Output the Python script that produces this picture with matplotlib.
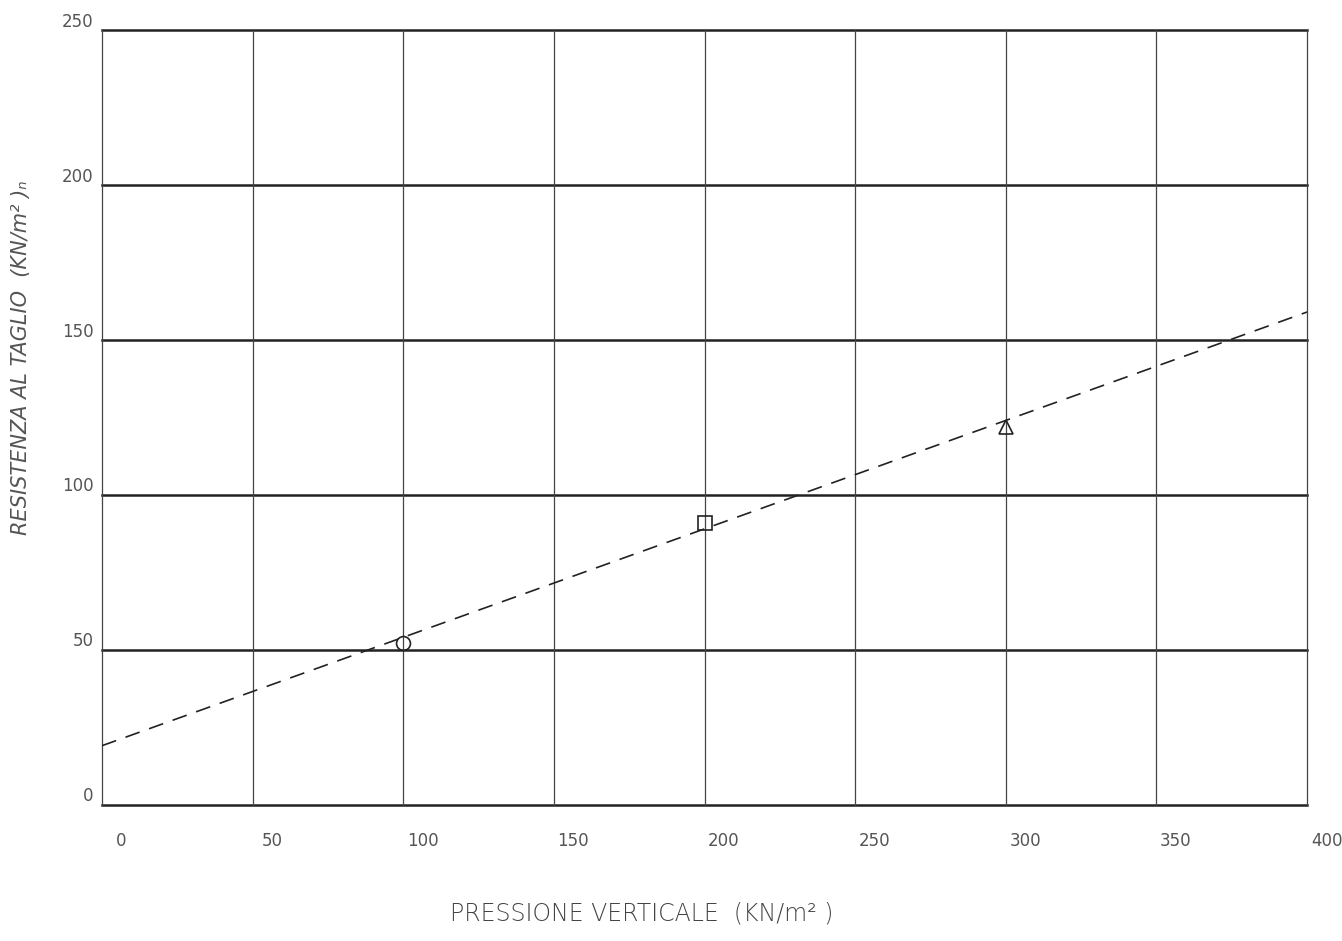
import matplotlib.pyplot as plt
import numpy as np

# prove di taglio diretto
pressione = [100, 200, 300]
resistenza = [52, 91, 122]
simboli = ['o', 's', '^']

# retta di inviluppo (coesione e tan(phi))
coesione = 19
tan_phi = 0.35

x_ticks = [0, 50, 100, 150, 200, 250, 300, 350, 400]
y_ticks = [0, 50, 100, 150, 200, 250]

fig = plt.figure(figsize=(13.42, 9.41), dpi=100)
ax = fig.add_axes([0.076, 0.145, 0.898, 0.823])

# griglia: orizzontali piu' marcate delle verticali
for y in y_ticks:
	ax.axhline(y, color='#222222', lw=1.8, zorder=1, clip_on=False)
for x in x_ticks:
	ax.axvline(x, color='#444444', lw=0.9, zorder=1, clip_on=False)

X = np.array([0, 400])
ax.plot(X, coesione + tan_phi * X, color='#222222', lw=1.2, ls=(0, (9, 6)), zorder=2)

for px, py, m in zip(pressione, resistenza, simboli):
	ax.plot(px, py, marker=m, ms=10, mfc='none', mec='#222222', mew=1.2, ls='none', zorder=3)

ax.set_xlim(0, 400)
ax.set_ylim(0, 250)
for s in ax.spines.values():
	s.set_visible(False)
ax.set_xticks([])
ax.set_yticks([])

txt = dict(color='#555555', fontsize=12)
for x in x_ticks:
	ax.annotate(str(x), (x, 0), xytext=(14, -26), textcoords='offset points',
		ha='center', va='center', **txt)
for y in y_ticks:
	ax.annotate(str(y), (0, y), xytext=(-6, 6), textcoords='offset points',
		ha='right', va='center', **txt)

fig.text(0.478, 0.016, 'PRESSIONE VERTICALE  (KN/m² )', ha='center', va='bottom',
	color='#444444', fontsize=17, fontweight='light')
fig.text(0.016, 0.62, 'RESISTENZA AL TAGLIO  (KN/m² )ₙ', rotation=90, ha='center', va='center',
	color='#555555', fontsize=15, style='italic')

fig.savefig('out.png', dpi=100)
